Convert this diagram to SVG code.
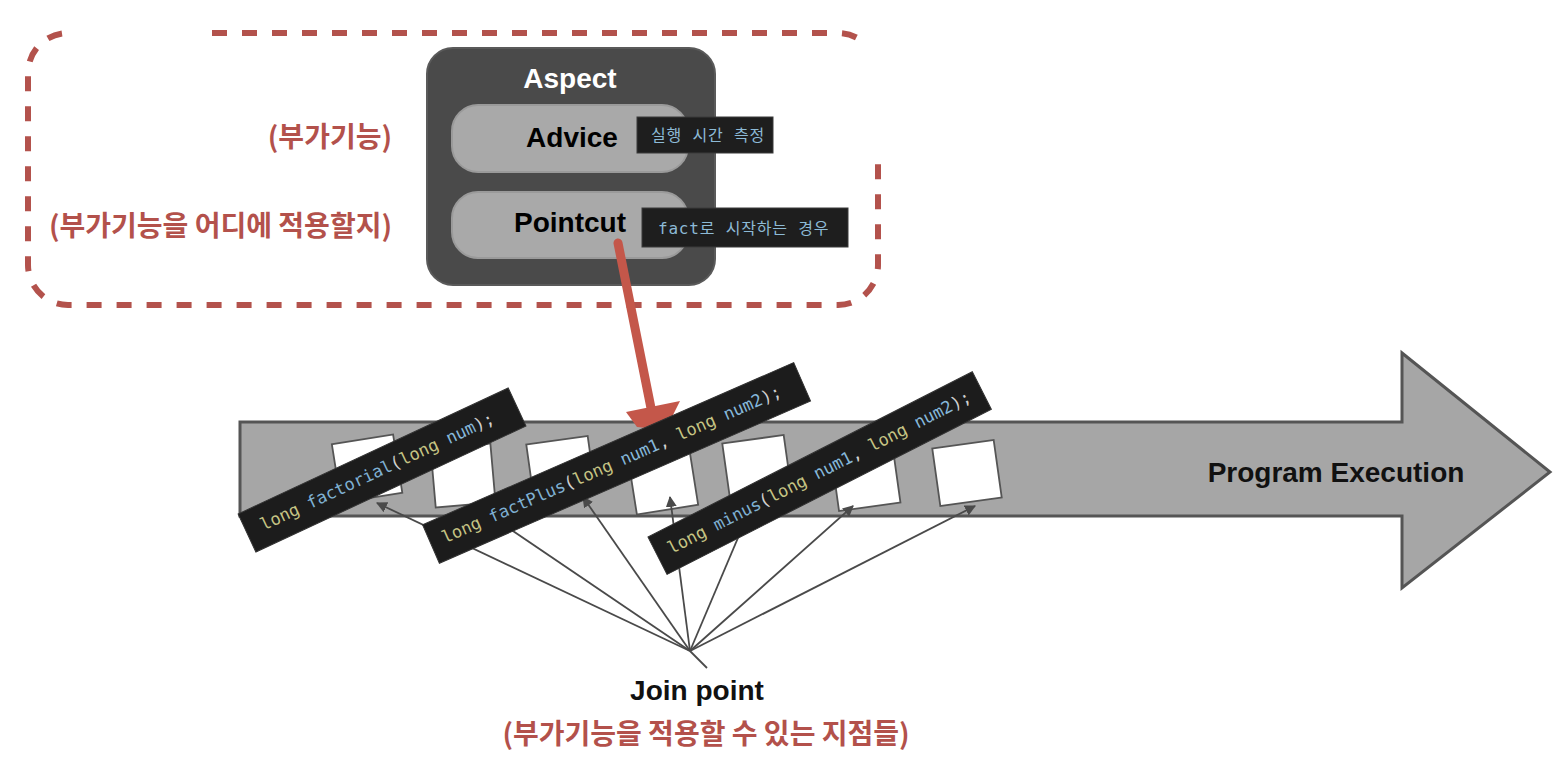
<svg xmlns="http://www.w3.org/2000/svg" width="1566" height="758" viewBox="0 0 1566 758">
<style>
.dash{fill:none;stroke:#b3524c;stroke-width:6;stroke-dasharray:15 15}
.lbl-kr{font-family:"Noto Sans CJK KR",sans-serif;font-weight:700;font-size:28px;fill:#b3514b}
.lbl-en{font-family:"Liberation Sans",Arial,sans-serif;font-weight:700;font-size:28px}
.pill{fill:#a9a9a9;stroke:#9a9a9a;stroke-width:2}
.tagbox{fill:#1e1e1e;stroke:#3a3a3a;stroke-width:1}
.tagtxt{font-family:"DejaVu Sans Mono","Noto Sans CJK KR",monospace;font-size:16px;letter-spacing:0.8px;fill:#8dbad6}
.sq{fill:#ffffff;stroke:#555;stroke-width:1.8}
.bar{fill:#1c1c1c;stroke:#333;stroke-width:1}
.code{font-family:"DejaVu Sans Mono","Liberation Mono",monospace;font-size:17px;fill:#d0d0d0}
.kw{fill:#c6c484}
.fn{fill:#7fb0d2}
.pm{fill:#86b8da}
.jl{fill:none;stroke:#4a4a4a;stroke-width:1.8}
</style>
<defs>
<marker id="ah" viewBox="0 0 10 10" refX="9" refY="5" markerWidth="11" markerHeight="11" markerUnits="userSpaceOnUse" orient="auto">
<path d="M0,0 L10,5 L0,10 z" fill="#4a4a4a"/>
</marker>
</defs>

<g id="scope-border">
<path class="dash" d="M212,33 H838 A40,40 0 0 1 858,38.4"/>
<path class="dash" d="M62,33.5 A40,40 0 0 0 28,73 V265 A40,40 0 0 0 68,305 H838 A40,40 0 0 0 878,265 V150"/>
</g>

<g id="label-advice-desc">
<text class="lbl-kr" x="392" y="147" text-anchor="end">(부가기능)</text>
</g>
<g id="label-pointcut-desc">
<text class="lbl-kr" x="392" y="236" text-anchor="end">(부가기능을 어디에 적용할지)</text>
</g>

<g id="aspect">
<rect x="427" y="48" width="288" height="237" rx="26" fill="#4a4a4a" stroke="#5a5a5a" stroke-width="2"/>
<text class="lbl-en" x="570" y="88" text-anchor="middle" font-size="29" fill="#ffffff">Aspect</text>
</g>
<g id="advice">
<rect class="pill" x="452" y="105" width="236" height="67" rx="26"/>
<text class="lbl-en" x="572" y="147" text-anchor="middle" font-size="27" fill="#000">Advice</text>
<rect class="tagbox" x="637" y="117" width="136" height="36"/>
<text class="tagtxt" x="651" y="141">실행 시간 측정</text>
</g>
<g id="pointcut">
<rect class="pill" x="452" y="192" width="236" height="66" rx="26"/>
<text class="lbl-en" x="570" y="232" text-anchor="middle" font-size="27" fill="#000">Pointcut</text>
<rect class="tagbox" x="642" y="208" width="206" height="39"/>
<text class="tagtxt" x="658" y="234">fact로 시작하는 경우</text>
</g>

<g id="program-execution">
<path d="M240,422 H1402 V353 L1550,472 L1402,588 V516 H240 Z" fill="#a6a6a6" stroke="#555" stroke-width="3" stroke-linejoin="miter"/>
<text class="lbl-en" x="1336" y="482" text-anchor="middle" fill="#111">Program Execution</text>
</g>

<g id="join-points">
<rect class="sq" x="-31" y="-29" width="62" height="59" transform="translate(367,468) rotate(-9)"/>
<rect class="sq" x="-31" y="-29" width="60" height="59" transform="translate(464,475) rotate(-5)"/>
<rect class="sq" x="-31" y="-29" width="62" height="58" transform="translate(561,469) rotate(-8)"/>
<rect class="sq" x="-31" y="-29" width="62" height="58" transform="translate(663,481) rotate(-9)"/>
<rect class="sq" x="-31" y="-29" width="62" height="58" transform="translate(757,468) rotate(-8)"/>
<rect class="sq" x="-31" y="-29" width="62" height="56" transform="translate(866,480) rotate(-8)"/>
<rect class="sq" x="-31" y="-29" width="62" height="58" transform="translate(967,473) rotate(-8)"/>
</g>

<g id="connectors">
<line class="jl" x1="690" y1="651" x2="377" y2="503" marker-end="url(#ah)"/>
<line class="jl" x1="690" y1="651" x2="476" y2="506" marker-end="url(#ah)"/>
<line class="jl" x1="690" y1="651" x2="583" y2="497" marker-end="url(#ah)"/>
<line class="jl" x1="690" y1="651" x2="670" y2="497" marker-end="url(#ah)"/>
<line class="jl" x1="690" y1="651" x2="757" y2="493" marker-end="url(#ah)"/>
<line class="jl" x1="690" y1="651" x2="853" y2="506" marker-end="url(#ah)"/>
<line class="jl" x1="690" y1="651" x2="975" y2="506" marker-end="url(#ah)"/>
<line class="jl" x1="690" y1="651" x2="707" y2="668"/>
<g id="pointcut-arrow">
<line x1="618" y1="243" x2="651" y2="408" stroke="#c4574a" stroke-width="9" stroke-linecap="round"/>
<path d="M626,412 L680,401 L671,419 L657,429 L637,427 Z" fill="#c4574a"/>
</g>
</g>

<g id="code-factorial" transform="translate(247,533) rotate(-25)">
<rect class="bar" x="0" y="-21" width="298" height="42"/>
<text class="code" x="16" y="5" font-size="17.5"><tspan class="kw">long</tspan> <tspan class="fn">factorial</tspan>(<tspan class="kw">long</tspan> <tspan class="pm">num</tspan>);</text>
</g>
<g id="code-factplus" transform="translate(431,544) rotate(-23.6)">
<rect class="bar" x="0" y="-21" width="405" height="42"/>
<text class="code" x="13" y="5"><tspan class="kw">long</tspan> <tspan class="fn">factPlus</tspan>(<tspan class="kw">long</tspan> <tspan class="pm">num1</tspan>, <tspan class="kw">long</tspan> <tspan class="pm">num2</tspan>);</text>
</g>
<g id="code-minus" transform="translate(657.5,555.7) rotate(-27)">
<rect class="bar" x="0" y="-21" width="364" height="42"/>
<text class="code" x="13" y="5"><tspan class="kw">long</tspan> <tspan class="fn">minus</tspan>(<tspan class="kw">long</tspan> <tspan class="pm">num1</tspan>, <tspan class="kw">long</tspan> <tspan class="pm">num2</tspan>);</text>
</g>

<g id="join-point-label">
<text class="lbl-en" x="697" y="700" text-anchor="middle" fill="#111">Join point</text>
<text class="lbl-kr" x="706" y="744" text-anchor="middle" font-size="27.5">(부가기능을 적용할 수 있는 지점들)</text>
</g>
</svg>
